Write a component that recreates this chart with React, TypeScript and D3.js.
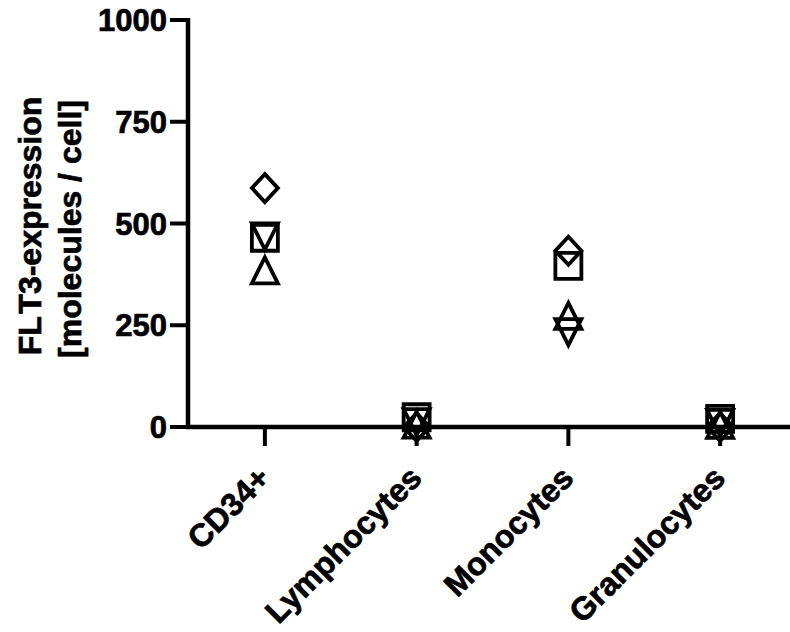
import * as d3 from 'd3'

const categories = ['CD34+', 'Lymphocytes', 'Monocytes', 'Granulocytes']
const yTicks = [0, 250, 500, 750, 1000]

// one value per category, one array per donor / symbol
const diamondValues = [587, 0, 433, 0]
const squareValues = [465, 24, 396, 20]
const triDownValues = [468, 12, 233, 10]
const triUpValues = [385, 6, 273, 5]

const width = 790
const height = 632
const font = '"Liberation Sans", Arial, sans-serif'

type Shape = 'diamond' | 'square' | 'triDown' | 'triUp'

const series: { shape: Shape; values: number[] }[] = [
  { shape: 'triUp', values: triUpValues },
  { shape: 'triDown', values: triDownValues },
  { shape: 'square', values: squareValues },
  { shape: 'diamond', values: diamondValues },
]

const markerPath = (shape: Shape, cx: number, cy: number) => {
  const s = 13
  const p = d3.path()
  if (shape === 'square') {
    p.rect(cx - s, cy - s, 2 * s, 2 * s)
  } else if (shape === 'diamond') {
    p.moveTo(cx, cy - s - 1)
    p.lineTo(cx + s, cy)
    p.lineTo(cx, cy + s + 1)
    p.lineTo(cx - s, cy)
    p.closePath()
  } else if (shape === 'triUp') {
    p.moveTo(cx, cy - s)
    p.lineTo(cx + s, cy + s)
    p.lineTo(cx - s, cy + s)
    p.closePath()
  } else {
    p.moveTo(cx - s, cy - s)
    p.lineTo(cx + s, cy - s)
    p.lineTo(cx, cy + s)
    p.closePath()
  }
  return p.toString()
}

const textStyle = {
  fontFamily: font,
  fontWeight: 'bold' as const,
  stroke: '#000',
  strokeWidth: 0.7,
}

const App = () => {
  const x = d3.scalePoint<string>().domain(categories).range([189, 796]).padding(0.5)
  const y = d3.scaleLinear().domain([0, 1000]).range([427, 20])
  const axisX = 188

  return (
    <svg
      width={width}
      height={height}
      style={{ position: 'absolute', left: 0, top: 0, background: '#fff' }}
    >
      {/* y axis */}
      <line x1={axisX} x2={axisX} y1={y(1000) - 2} y2={y(0) + 2} stroke="#000" strokeWidth={4.5} />
      {yTicks.map(t => (
        <g key={t}>
          <line x1={axisX - 18} x2={axisX} y1={y(t)} y2={y(t)} stroke="#000" strokeWidth={4} />
          <text x={167} y={y(t)} dy="0.36em" textAnchor="end" fontSize={31} style={textStyle}>
            {t}
          </text>
        </g>
      ))}

      {/* x axis */}
      <line x1={axisX - 2} x2={width} y1={y(0)} y2={y(0)} stroke="#000" strokeWidth={4.5} />
      {categories.map(c => (
        <g key={c}>
          <line x1={x(c)} x2={x(c)} y1={y(0)} y2={y(0) + 19} stroke="#000" strokeWidth={4} />
          <text
            transform={`translate(${(x(c) ?? 0) + 7},${480}) rotate(-45)`}
            textAnchor="end"
            fontSize={32}
            style={textStyle}
          >
            {c}
          </text>
        </g>
      ))}

      {/* y title */}
      <text
        transform={`translate(41,226) rotate(-90)`}
        textAnchor="middle"
        fontSize={32}
        style={textStyle}
      >
        FL<tspan dx={5}>T3-expression</tspan>
      </text>
      <text
        transform={`translate(81,229) rotate(-90)`}
        textAnchor="middle"
        fontSize={32}
        style={textStyle}
      >
        [molecules / cell]
      </text>

      {/* markers */}
      {series.map(s =>
        s.values.map((v, i) => (
          <path
            key={s.shape + i}
            d={markerPath(s.shape, x(categories[i]) ?? 0, y(v))}
            fill="none"
            stroke="#000"
            strokeWidth={3.8}
            strokeLinejoin="miter"
          />
        ))
      )}
    </svg>
  )
}

export default App
